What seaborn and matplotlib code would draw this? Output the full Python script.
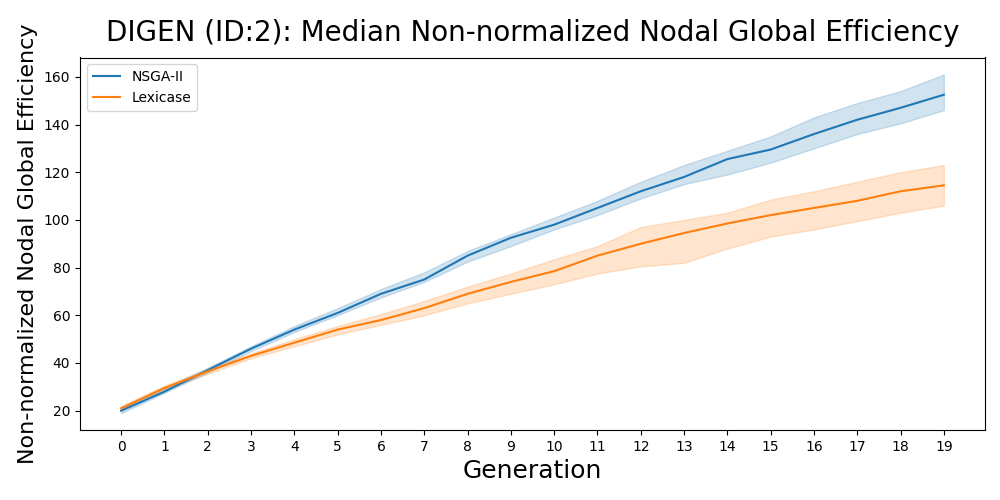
import matplotlib
matplotlib.use("Agg")
import matplotlib.pyplot as plt
import seaborn as sns
import pandas as pd

generations = list(range(20))
nsga_med = [20, 28, 37, 46, 54, 61, 69, 75, 85, 92.5, 98, 105, 112, 118, 125.5, 129.5, 136, 142, 147, 152.5]
nsga_lo = [19, 27.5, 36, 45, 53, 60, 67.5, 74, 82.5, 89, 96, 102, 109, 115, 119, 124, 130, 136, 140.5, 146]
nsga_hi = [21, 29.5, 38, 47, 55.5, 63, 71, 78, 87, 94, 101, 108, 116, 123, 129, 135, 143, 149, 154, 161]
lex_med = [21, 29.5, 36.5, 43, 48.5, 54, 58, 63, 69, 74, 78.5, 85, 90, 94.5, 98.5, 102, 105, 108, 112, 114.5]
lex_lo = [20, 29, 35.5, 42, 47, 52, 56, 60, 65, 69, 73, 77.5, 80.5, 82, 88, 93, 96, 99.5, 103, 106]
lex_hi = [22, 30.5, 37.5, 44, 50, 55.5, 60.5, 66, 72, 77.5, 83.5, 89, 97, 100, 103, 108.5, 112, 116, 120, 123]

fig, ax = plt.subplots(figsize=(10, 5), dpi=100)
df = pd.DataFrame({
    "Generation": generations * 2,
    "value": nsga_med + lex_med,
    "Method": ["NSGA-II"] * 20 + ["Lexicase"] * 20,
})
sns.lineplot(data=df, x="Generation", y="value", hue="Method", ax=ax,
             palette=["#1f77b4", "#ff7f0e"])
ax.fill_between(generations, nsga_lo, nsga_hi, color="#1f77b4", alpha=0.2)
ax.fill_between(generations, lex_lo, lex_hi, color="#ff7f0e", alpha=0.2)
ax.set_xticks(generations)
ax.set_xlabel("Generation", fontsize=18)
ax.set_ylabel("Non-normalized Nodal Global Efficiency", fontsize=16)
ax.set_title("DIGEN (ID:2): Median Non-normalized Nodal Global Efficiency", fontsize=20, pad=12)
ax.legend(loc="upper left", title=None)
fig.subplots_adjust(left=0.08, right=0.985, top=0.885, bottom=0.14)
fig.savefig("out.png")
